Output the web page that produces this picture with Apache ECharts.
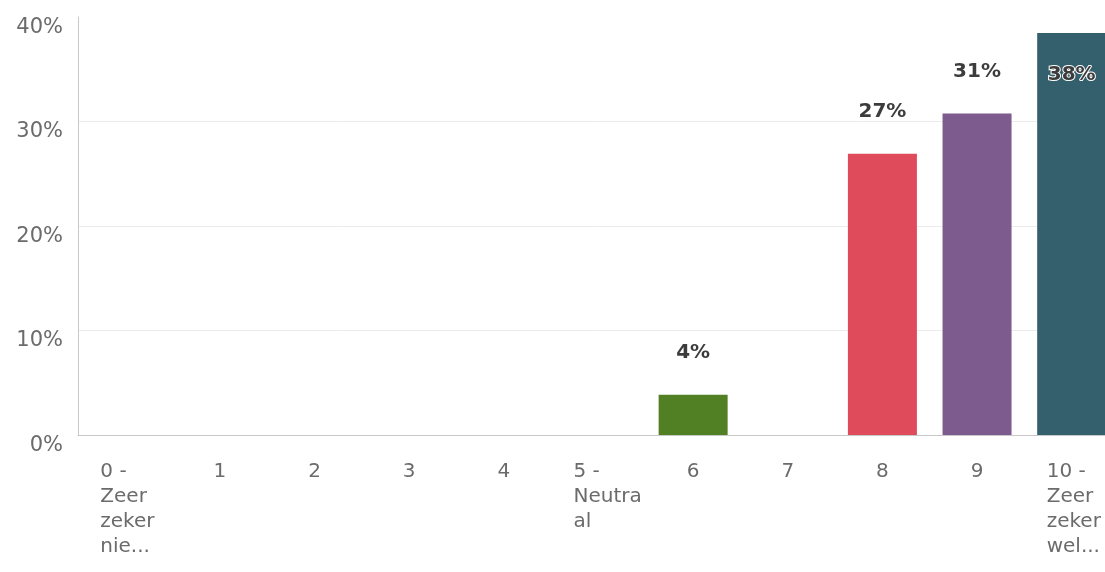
<!DOCTYPE html>
<html>
<head>
<meta charset="utf-8">
<script src="https://cdn.jsdelivr.net/npm/echarts@6/dist/echarts.min.js"></script>
<style>
html,body{margin:0;padding:0;background:#fff;overflow:hidden;width:1105px;height:572px;}
#chart{width:1119px;height:572px;}
</style>
</head>
<body>
<div id="chart"></div>
<script>
const categories = ['0 -\nZeer\nzeker\nnie...', '1', '2', '3', '4', '5 -\nNeutra\nal', '6', '7', '8', '9', '10 -\nZeer\nzeker\nwel...'];
const values = [0, 0, 0, 0, 0, 0, 3.85, 0, 26.92, 30.77, 38.46];
const yTicks = [0, 10, 20, 30, 40];
const barColors = ['#507f24', '#507f24', '#507f24', '#507f24', '#507f24', '#507f24', '#507f24', '#507f24', '#df4b5b', '#7d5b8f', '#345f6d'];

const FONT = '"DejaVu Sans", "Noto Sans", sans-serif';
const chart = echarts.init(document.getElementById('chart'), null, {renderer: 'canvas'});

const seriesData = values.map((v, i) => {
  const item = { value: v, itemStyle: { color: barColors[i] } };
  if (i === values.length - 1) {
    item.label = { position: 'insideTop', distance: 32 };
  }
  return item;
});

const xLabelStyle = { fontSize: 20, lineHeight: 25, color: '#6b6b6b', fontFamily: FONT };

chart.setOption({
  animation: false,
  backgroundColor: '#fff',
  grid: { left: 78, right: 0, top: 17, bottom: 137, containLabel: false },
  xAxis: {
    type: 'category',
    data: categories,
    axisLine: { show: true, lineStyle: { color: '#c8c8c8', width: 1 } },
    axisTick: { show: false },
    axisLabel: {
      interval: 0,
      margin: 24,
      formatter: function (v) {
        const lines = v.split('\n');
        if (lines.length === 1) return '{s|' + v + '}';
        return lines.map(l => '{m|' + l + '}').join('\n');
      },
      rich: {
        s: Object.assign({ align: 'center' }, xLabelStyle),
        m: Object.assign({ align: 'left', width: 50 }, xLabelStyle)
      }
    }
  },
  yAxis: {
    type: 'value',
    min: yTicks[0],
    max: yTicks[yTicks.length - 1],
    interval: 10,
    axisLine: { show: true, lineStyle: { color: '#c8c8c8', width: 1 } },
    axisTick: { show: false },
    splitLine: { show: true, showMaxLine: false, lineStyle: { color: '#ececec', width: 1 } },
    axisLabel: {
      formatter: '{value}%',
      margin: 15,
      fontSize: 21,
      color: '#6b6b6b',
      fontFamily: FONT,
      verticalAlign: 'top',
      padding: [0, 0, 0, 0]
    }
  },
  series: [{
    type: 'bar',
    data: seriesData,
    barWidth: 69,
    label: {
      show: true,
      position: 'top',
      distance: 32,
      fontSize: 20,
      fontWeight: 'bold',
      color: '#3c3c3c',
      fontFamily: FONT,
      textBorderColor: '#ffffff',
      textBorderWidth: 2,
      formatter: function (p) {
        return p.value > 0 ? Math.round(p.value) + '%' : '';
      }
    }
  }]
});
</script>
</body>
</html>
